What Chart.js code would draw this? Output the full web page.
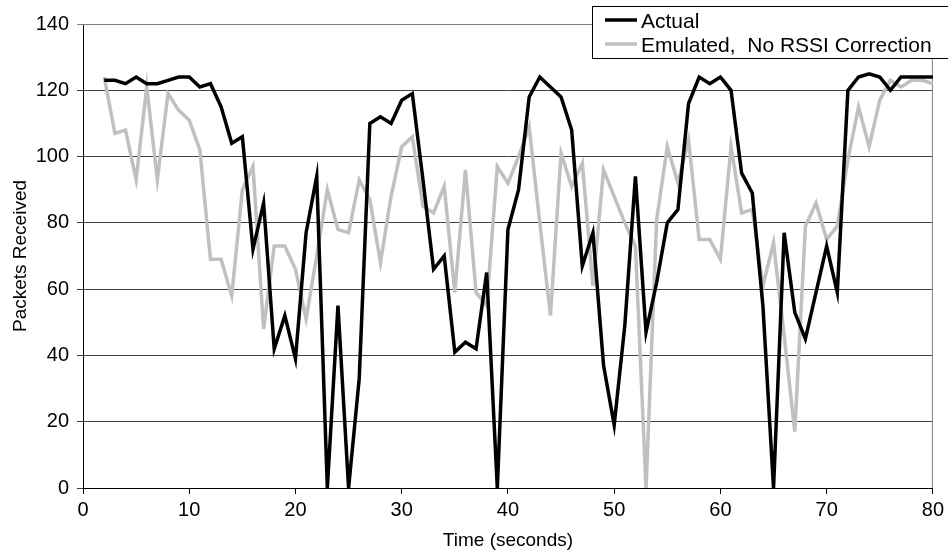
<!DOCTYPE html>
<html><head><meta charset="utf-8">
<script src="https://cdn.jsdelivr.net/npm/chart.js@4/dist/chart.umd.min.js"></script>
<style>html,body{margin:0;padding:0;background:#fff}#c{display:block}</style>
</head><body>
<canvas id="c" width="948" height="558"></canvas>
<script>
const seconds = [2,3,4,5,6,7,8,9,10,11,12,13,14,15,16,17,18,19,20,21,22,23,24,25,26,27,28,29,30,31,32,33,34,35,36,37,38,39,40,41,42,43,44,45,46,47,48,49,50,51,52,53,54,55,56,57,58,59,60,61,62,63,64,65,66,67,68,69,70,71,72,73,74,75,76,77,78,79,80];
const actual = [123,123,122,124,122,122,123,124,124,121,122,115,104,106,72,86,42,52,39,77,94,0,55,0,33,110,112,110,117,119,93,66,70,41,44,42,65,0,78,90,118,124,121,118,108,67,77,37,19,49,94,47,62,80,84,116,124,122,124,120,95,89,55,0,77,53,45,59,73,59,120,124,125,124,120,124,124,124,124];
const emulated = [124,107,108,93,121,93,119,114,111,102,69,69,58,90,97,48,73,73,66,51,70,90,78,77,93,87,68,88,103,106,85,83,91,59,96,59,55,97,92,100,109,80,52,101,91,98,61,96,88,80,73,0,81,103,92,105,75,75,69,103,83,84,61,74,46,17,79,86,75,79,99,115,103,117,123,121,123,123,122];
const seriesNames = ['Actual', 'Emulated,  No RSSI Correction'];
const xTitle = 'Time (seconds)';
const yTitle = 'Packets Received';
const xRange = [0, 80, 10];
const yRange = [0, 140, 20];

const FONT = 'Liberation Sans, Arial, sans-serif';

const boxLegend = {
  id: 'boxLegend',
  afterDraw(chart) {
    const ctx = chart.ctx;
    const ds = chart.data.datasets;
    const left = 592, top = 6, right = 949, bottom = 58;
    ctx.save();
    ctx.fillStyle = '#fff';
    ctx.fillRect(left, top, right - left, bottom - top);
    ctx.strokeStyle = '#000';
    ctx.lineWidth = 1;
    ctx.strokeRect(left + 0.5, top + 0.5, right - left, bottom - top);
    ctx.font = '21px ' + FONT;
    ctx.textBaseline = 'alphabetic';
    const rows = [20, 44];
    ds.forEach((d, i) => {
      ctx.strokeStyle = d.borderColor;
      ctx.lineWidth = 3.5;
      ctx.beginPath();
      ctx.moveTo(605, rows[i]);
      ctx.lineTo(637, rows[i]);
      ctx.stroke();
      ctx.fillStyle = '#000';
      ctx.fillText(d.label, 641, rows[i] + 7.5);
    });
    ctx.restore();
  }
};

const frame = {
  id: 'frame',
  beforeDatasetsDraw(chart) {
    const {ctx, chartArea: a} = chart;
    ctx.save();
    ctx.strokeStyle = '#808080';
    ctx.lineWidth = 1;
    ctx.beginPath();
    ctx.moveTo(a.left, a.top + 0.5);
    ctx.lineTo(a.right - 0.5, a.top + 0.5);
    ctx.lineTo(a.right - 0.5, a.bottom);
    ctx.stroke();
    ctx.restore();
  }
};

new Chart(document.getElementById('c'), {
  type: 'line',
  data: {
    datasets: [
      { label: seriesNames[0], data: seconds.map((s, i) => ({x: s, y: actual[i]})),
        borderColor: '#000000', borderWidth: 3.5, pointRadius: 0, tension: 0, fill: false },
      { label: seriesNames[1], data: seconds.map((s, i) => ({x: s, y: emulated[i]})),
        borderColor: '#c0c0c0', borderWidth: 3.5, pointRadius: 0, tension: 0, fill: false }
    ]
  },
  options: {
    responsive: false,
    animation: false,
    events: [],
    layout: { padding: { top: 24, right: 11, left: 0, bottom: 0 } },
    plugins: { legend: { display: false }, tooltip: { enabled: false } },
    scales: {
      x: {
        type: 'linear', min: xRange[0], max: xRange[1],
        afterFit(s) { s.height = 70; },
        ticks: { stepSize: xRange[2], color: '#000', font: { family: FONT, size: 20 }, padding: 4, maxRotation: 0 },
        grid: { drawOnChartArea: false, drawTicks: true, tickLength: 6, color: '#000' },
        border: { color: '#000', width: 1 },
        title: { display: true, text: xTitle, color: '#000', font: { family: FONT, size: 19 }, padding: { top: 0, bottom: 6 } }
      },
      y: {
        min: yRange[0], max: yRange[1],
        afterFit(s) { s.width = 83; },
        ticks: { stepSize: yRange[2], color: '#000', font: { family: FONT, size: 20 }, padding: 8 },
        grid: {
          color: (c) => (c.tick && c.tick.value === yRange[1]) ? '#808080' : '#404040',
          lineWidth: 1, tickLength: 6, drawTicks: true
        },
        border: { color: '#000', width: 1 },
        title: { display: true, text: yTitle, color: '#000', font: { family: FONT, size: 19 }, padding: { top: 9, bottom: 0 } }
      }
    }
  },
  plugins: [frame, boxLegend]
});
</script>
</body></html>
